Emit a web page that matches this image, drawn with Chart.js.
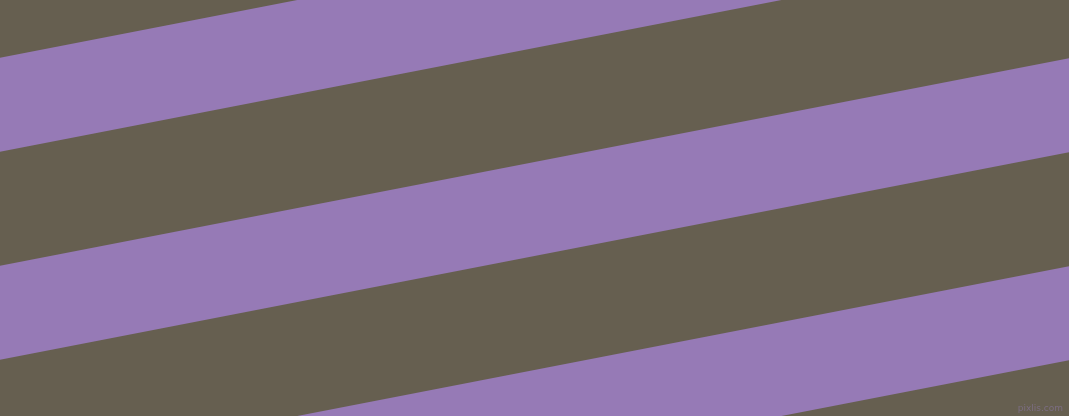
<!DOCTYPE html>
<html>
<head>
<meta charset="utf-8">
<script src="https://cdn.jsdelivr.net/npm/chart.js@4/dist/chart.umd.min.js"></script>
<style>
    html, body { margin: 0; padding: 0; background: #665f50; overflow: hidden; }
    #wrap { width: 1069px; height: 416px; position: relative; }
</style>
</head>
<body>
<div id="wrap"><canvas id="stripes"></canvas></div>
<script>
// stripe edges, read where they cross the left (x=0) and right (x=1069) borders
const xEdges = [0, 1069];
const bandTopLeft = [57.7, 265.7, 473.7];
const bandBottomLeft = [151.7, 359.7, 567.7];
const bandTopRight = [-149.8, 58.2, 266.2];
const bandBottomRight = [-55.8, 152.2, 360.2];

const STRIPE_COLOR = '#967ab6';
const BASE_COLOR = '#665f50';

const edge = (left, right) => [
    { x: xEdges[0], y: left },
    { x: xEdges[1], y: right },
];

const datasets = [];
bandTopLeft.forEach((top, i) => {
    datasets.push({
        data: edge(top, bandTopRight[i]),
        fill: '+1',
        backgroundColor: STRIPE_COLOR,
        borderWidth: 0,
        pointRadius: 0,
    });
    datasets.push({
        data: edge(bandBottomLeft[i], bandBottomRight[i]),
        fill: false,
        borderWidth: 0,
        pointRadius: 0,
    });
});

const watermark = {
    id: 'watermark',
    afterDraw(chart) {
        const { ctx } = chart;
        ctx.save();
        ctx.font = '9px "DejaVu Sans"';
        ctx.fillStyle = 'rgba(140, 120, 170, 0.55)';
        ctx.textAlign = 'right';
        ctx.textBaseline = 'bottom';
        ctx.fillText('pixlis.com', 1063, 413);
        ctx.restore();
    },
};

new Chart(document.getElementById('stripes'), {
    type: 'line',
    data: { datasets },
    options: {
        responsive: true,
        maintainAspectRatio: false,
        animation: false,
        layout: { padding: 0 },
        plugins: {
            legend: { display: false },
            tooltip: { enabled: false },
        },
        scales: {
            x: { type: 'linear', min: 0, max: 1069, display: false },
            y: { type: 'linear', min: 0, max: 416, reverse: true, display: false },
        },
    },
    plugins: [watermark],
});
document.body.style.background = BASE_COLOR;
</script>
</body>
</html>
